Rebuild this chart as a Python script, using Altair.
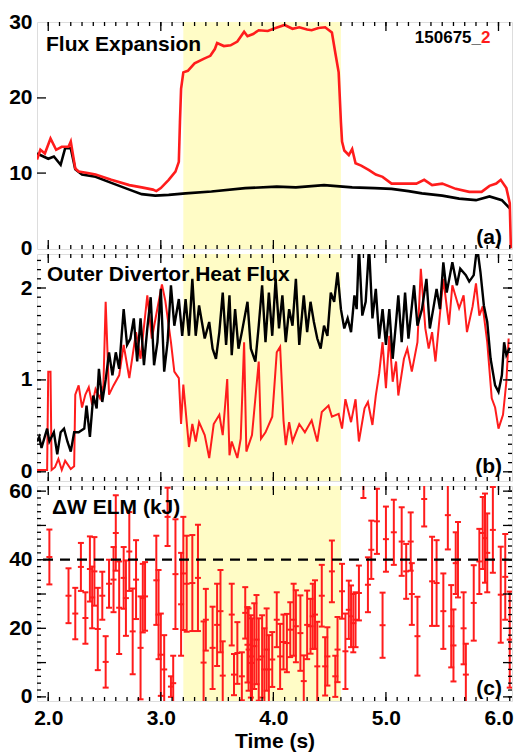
import altair as alt
import pandas as pd

# ---------------- data ----------------
x_domain = [1.9, 6.12]
shade_start, shade_end = 3.2, 4.6
threshold = 40

# Panel (a) flux expansion
t_fe_red = [1.9, 1.93, 1.97, 2.02, 2.07, 2.12, 2.18, 2.2, 2.24, 2.27, 2.35, 2.42, 2.56, 2.72, 2.83, 2.93,
            2.96, 3.0, 3.07, 3.13, 3.16, 3.17, 3.18, 3.2, 3.24, 3.3, 3.38, 3.44, 3.48, 3.5, 3.56, 3.62,
            3.68, 3.74, 3.77, 3.82, 3.87, 3.95, 4.02, 4.1, 4.17, 4.23, 4.3, 4.34, 4.4, 4.46, 4.52, 4.55,
            4.58, 4.6, 4.61, 4.63, 4.67, 4.7, 4.73, 4.78, 4.85, 4.91, 4.97, 5.05, 5.15, 5.27, 5.34, 5.41,
            5.5, 5.62, 5.74, 5.85, 5.92, 5.98, 6.02, 6.07, 6.1, 6.11]
fe_red = [11.8, 13.1, 12.6, 14.6, 13.1, 13.5, 13.5, 14.2, 10.6, 10.2, 10.0, 9.8, 9.1, 8.4, 8.1, 7.8,
          7.6, 8.0, 9.1, 10.2, 11.5, 16.8, 21.2, 23.4, 23.6, 24.6, 25.2, 25.6, 26.5, 27.3, 26.9, 27.0,
          27.5, 28.8, 28.2, 28.5, 29.0, 28.9, 29.3, 29.7, 29.2, 29.4, 29.1, 29.0, 29.3, 29.4, 28.7, 26.0,
          23.4, 16.8, 14.2, 13.0, 12.4, 13.2, 11.3, 11.0, 10.4, 9.8, 9.5, 8.6, 8.6, 8.6, 9.1, 8.4,
          8.6, 7.9, 7.5, 7.5, 8.3, 8.6, 9.1, 8.0, 6.0, 0.0]
t_fe_blk = [1.9, 2.0, 2.05, 2.11, 2.15, 2.2, 2.24, 2.3, 2.42, 2.56, 2.72, 2.83, 2.95, 3.07, 3.22, 3.45,
            3.75, 4.03, 4.2, 4.45, 4.7, 4.9, 5.05, 5.2, 5.32, 5.5, 5.65, 5.8, 5.92, 6.03, 6.1]
fe_blk = [12.6, 11.9, 12.2, 11.1, 13.3, 13.3, 10.5, 9.8, 9.5, 8.7, 7.8, 7.2, 7.0, 7.1, 7.3, 7.55,
          8.0, 8.2, 8.1, 8.4, 8.1, 8.0, 7.9, 7.6, 7.3, 7.0, 6.6, 6.4, 6.9, 6.4, 5.3]

# Panel (b) outer divertor heat flux
t_q_red = [1.9, 1.95, 1.99, 2.0, 2.02, 2.03, 2.06, 2.09, 2.12, 2.15, 2.2, 2.23, 2.24, 2.27, 2.3, 2.33,
           2.36, 2.39, 2.42, 2.46, 2.49, 2.51, 2.54, 2.58, 2.63, 2.67, 2.72, 2.78, 2.82, 2.88, 2.92, 2.97,
           3.01, 3.04, 3.09, 3.12, 3.16, 3.18, 3.2, 3.23, 3.25, 3.28, 3.31, 3.34, 3.39, 3.43, 3.47, 3.52,
           3.55, 3.59, 3.61, 3.63, 3.68, 3.71, 3.74, 3.76, 3.81, 3.87, 3.89, 3.93, 3.99, 4.03, 4.06, 4.09,
           4.11, 4.14, 4.17, 4.23, 4.28, 4.34, 4.39, 4.43, 4.49, 4.52, 4.58, 4.61, 4.64, 4.69, 4.73, 4.76,
           4.81, 4.84, 4.88, 4.91, 4.94, 4.97, 5.0, 5.03, 5.06, 5.09, 5.11, 5.16, 5.19, 5.23, 5.28, 5.31,
           5.35, 5.38, 5.41, 5.44, 5.47, 5.51, 5.56, 5.59, 5.65, 5.69, 5.72, 5.77, 5.8, 5.83, 5.86, 5.9,
           5.94, 5.97, 6.0, 6.04, 6.07, 6.09]
q_red = [0.02, 0.02, 0.02, 1.09, 1.09, 0.02, 0.05, 0.14, 0.02, 0.12, 0.03, 0.06, 0.84, 0.94, 0.7, 0.84,
         0.92, 0.73, 0.9, 0.8, 0.94, 1.85, 0.84, 0.94, 1.05, 1.38, 1.02, 1.52, 1.23, 1.92, 1.45, 1.78,
         2.04, 1.86, 1.41, 1.09, 1.02, 0.52, 0.95, 0.54, 0.27, 0.52, 0.33, 0.54, 0.4, 0.15, 0.52, 0.62,
         0.4, 1.01, 0.18, 0.33, 0.15, 0.36, 1.41, 0.22, 0.4, 1.2, 0.36, 0.43, 0.6, 1.3, 1.36, 0.56,
         0.29, 0.54, 0.33, 0.52, 0.43, 0.56, 0.33, 0.65, 0.72, 0.6, 0.63, 0.47, 0.79, 0.54, 0.79, 0.33,
         0.69, 0.76, 0.51, 0.83, 1.07, 1.41, 0.91, 1.48, 0.98, 1.2, 0.83, 1.23, 1.34, 1.09, 1.41, 2.21,
         1.56, 1.34, 1.52, 1.2, 1.59, 2.1, 1.6, 2.03, 1.78, 1.92, 1.52, 1.8, 2.05, 1.7, 1.8, 1.41,
         0.8, 0.7, 0.47, 0.62, 0.98, 1.45]
t_q_blk = [1.9, 1.92, 1.94, 1.99, 2.01, 2.05, 2.08, 2.11, 2.14, 2.17, 2.2, 2.23, 2.27, 2.32, 2.34, 2.37,
           2.4, 2.43, 2.45, 2.48, 2.51, 2.54, 2.57, 2.6, 2.63, 2.65, 2.67, 2.7, 2.73, 2.76, 2.79, 2.82,
           2.85, 2.88, 2.91, 2.94, 2.97, 3.0, 3.03, 3.06, 3.09, 3.12, 3.16, 3.19, 3.22, 3.25, 3.28, 3.31,
           3.34, 3.39, 3.43, 3.46, 3.49, 3.52, 3.55, 3.58, 3.61, 3.63, 3.66, 3.69, 3.72, 3.77, 3.8, 3.84,
           3.87, 3.9, 3.93, 3.96, 3.99, 4.02, 4.05, 4.08, 4.11, 4.14, 4.17, 4.2, 4.23, 4.27, 4.3, 4.33,
           4.36, 4.39, 4.42, 4.45, 4.48, 4.51, 4.54, 4.57, 4.6, 4.63, 4.66, 4.69, 4.72, 4.74, 4.76, 4.79,
           4.82, 4.85, 4.88, 4.91, 4.94, 4.97, 5.0, 5.03, 5.06, 5.09, 5.11, 5.14, 5.17, 5.2, 5.25, 5.28,
           5.32, 5.36, 5.39, 5.42, 5.45, 5.48, 5.51, 5.54, 5.59, 5.63, 5.66, 5.71, 5.74, 5.78, 5.81, 5.84,
           5.87, 5.9, 5.93, 5.97, 6.0, 6.03, 6.05, 6.07, 6.1]
q_blk = [0.33, 0.38, 0.26, 0.47, 0.33, 0.43, 0.19, 0.43, 0.47, 0.33, 0.22, 0.43, 0.43, 0.47, 0.72, 0.38,
         0.83, 0.69, 1.12, 0.76, 1.0, 1.3, 1.05, 1.3, 1.12, 1.45, 1.77, 1.38, 1.45, 1.67, 1.2, 1.67,
         1.16, 1.56, 1.9, 1.16, 1.41, 1.99, 1.09, 1.41, 2.03, 1.59, 1.88, 1.48, 1.88, 1.48, 2.1, 1.48,
         1.81, 1.45, 1.63, 1.34, 1.23, 1.52, 1.95, 1.38, 1.92, 1.27, 1.77, 1.34, 1.52, 1.85, 1.34, 1.2,
         1.59, 2.03, 1.41, 1.95, 1.48, 2.1, 1.56, 1.92, 1.41, 1.77, 1.59, 2.1, 1.38, 1.92, 1.52, 1.85,
         1.63, 1.45, 1.34, 1.59, 1.48, 1.95, 1.85, 2.17, 1.77, 1.56, 1.67, 1.52, 1.92, 1.77, 2.45, 1.7,
         1.85, 2.45, 1.67, 1.99, 1.45, 1.77, 1.38, 1.77, 1.23, 1.63, 1.92, 1.41, 1.95, 1.45, 2.03, 1.59,
         1.77, 2.1, 1.56, 1.77, 1.99, 1.77, 2.28, 1.95, 2.28, 2.03, 2.21, 2.14, 2.07, 2.14, 2.45, 2.17,
         1.81, 1.63, 1.23, 0.94, 0.87, 1.05, 1.41, 1.27, 1.35]

# Panel (c) ELM energy loss with error bars
t_elm = [2.01, 2.18, 2.24, 2.29, 2.33, 2.37, 2.39, 2.41, 2.44, 2.48, 2.51, 2.54, 2.58, 2.6, 2.63, 2.67,
         2.69, 2.72, 2.75, 2.78, 2.82, 2.84, 2.86, 2.96, 2.98, 3.0, 3.03, 3.06, 3.09, 3.11, 3.13, 3.18,
         3.2, 3.23, 3.28, 3.33, 3.38, 3.4, 3.46, 3.5, 3.53, 3.55, 3.63, 3.65, 3.68, 3.72, 3.75, 3.77,
         3.78, 3.8, 3.81, 3.83, 3.85, 3.87, 3.9, 3.92, 3.94, 3.96, 3.99, 4.03, 4.06, 4.09, 4.12, 4.15,
         4.18, 4.2, 4.24, 4.27, 4.3, 4.33, 4.35, 4.37, 4.39, 4.43, 4.46, 4.48, 4.52, 4.55, 4.57, 4.61,
         4.64, 4.67, 4.69, 4.71, 4.73, 4.76, 4.8, 4.84, 4.87, 4.92, 4.97, 5.0, 5.07, 5.14, 5.18, 5.22,
         5.23, 5.28, 5.34, 5.41, 5.45, 5.51, 5.55, 5.58, 5.6, 5.62, 5.64, 5.69, 5.71, 5.78, 5.83, 5.86,
         5.88, 5.9, 5.95, 6.02, 6.06, 6.1]
elm = [40.8, 29.5, 24.3, 37.9, 23.0, 37.3, 29.0, 36.6, 19.8, 29.5, 10.2, 33.0, 34.2, 47.8, 26.0, 34.7,
       28.8, 42.4, 19.1, 34.2, 14.3, 28.8, 29.3, 34.0, 24.0, 12.3, 8.0, 52.5, 3.0, 4.0, 35.8, 27.0,
       36.0, 33.0, 33.2, 34.7, 10.0, 22.5, 14.3, 21.0, 25.0, 6.2, 24.0, 6.5, 12.8, 6.0, 24.5, 15.2,
       13.8, 11.8, 9.9, 14.8, 16.7, 10.9, 11.8, 8.0, 13.8, 8.0, 10.9, 22.5, 11.8, 16.0, 15.7, 19.6,
       22.5, 20.6, 18.6, 4.6, 21.0, 20.6, 23.5, 24.0, 8.9, 29.5, 8.9, 11.8, 36.6, 6.0, 13.8, 30.8,
       13.3, 25.4, 23.5, 21.5, 22.5, 30.3, 64.0, 32.7, 42.9, 51.2, 20.9, 46.0, 48.0, 45.3, 36.6, 45.3,
       30.0, 17.7, 57.7, 33.7, 33.2, 25.0, 53.0, 20.6, 15.0, 39.0, 40.0, 20.0, 6.5, 27.4, 39.5, 47.8,
       46.3, 42.0, 48.7, 29.8, 35.0, 16.7]
elm_err = [8, 8, 7.5, 7, 7.5, 9.5, 9, 10, 12, 7, 7.5, 7, 9.5, 11, 13.5, 9,
           11, 11.5, 12.5, 11.5, 15, 10, 10, 13, 13, 12, 10, 8.5, 3, 8, 16, 15,
           16.5, 14, 14, 15.5, 12, 9, 12, 12, 12, 10, 9, 6, 9, 7, 7.5, 11,
           12, 12, 13, 12.5, 13, 12, 12, 12, 12, 10, 8, 8, 9.5, 8, 8.5, 8,
           10.5, 10.5, 11, 7.5, 10, 8, 9.5, 10, 13, 9, 8.5, 8.5, 9, 6, 9.5, 8,
           11, 8.5, 9, 8.5, 8, 8, 6, 8, 8.5, 9.5, 9.5, 9.5, 9.5, 10, 8, 8.5,
           9, 11.5, 8, 13, 12.5, 11, 10, 12, 10.5, 9, 11, 10.5, 9, 11, 9.5, 10.5,
           13, 11.5, 12.5, 14, 12.5, 14]

# ---------------- styling ----------------
RED = "#ff1c1c"
YELLOW = "#fffcc6"
FONT = "Liberation Sans"
W = 475
H_A, H_B, H_C = 227, 227, 215
x_major = [2, 3, 4, 5, 6]
x_minor = [round(1.9 + 0.1 * i, 2) for i in range(1, 43)]

xs = alt.Scale(domain=x_domain, nice=False, zero=False)


def yaxis(values):
    return alt.Axis(values=values, ticks=False, domain=False, grid=False, labelFont=FONT,
                    labelFontSize=21, labelFontWeight="bold", labelColor="black",
                    labelPadding=5, title=None, labelOverlap=False)


def make_panel(H, ys, yax, xax, layers_spec, minor_y, major_y, right_ticks, texts):
    """Build one panel; every layer that encodes x / y with a field uses the same axis spec."""
    X = lambda f: alt.X(f, scale=xs, axis=xax)
    Y = lambda f: alt.Y(f, scale=ys, axis=yax)
    layers = []
    # shaded interval
    sdf = pd.DataFrame({"t0": [shade_start], "t1": [shade_end]})
    layers.append(alt.Chart(sdf).mark_rect(color=YELLOW).encode(
        x=X("t0:Q"), x2="t1:Q", y=alt.value(0), y2=alt.value(H)))
    # data layers
    for kind, df, opts in layers_spec:
        if kind == "line":
            layers.append(alt.Chart(df).mark_line(clip=True, **opts).encode(x=X("t:Q"), y=Y("v:Q")))
        elif kind == "errbar":
            layers.append(alt.Chart(df).mark_rule(clip=True, **opts).encode(
                x=X("t:Q"), y=Y("lo:Q"), y2="hi:Q"))
            for fld in ("lo", "hi", "v"):
                layers.append(alt.Chart(df).mark_rule(clip=True, xOffset=-3, x2Offset=3, **opts).encode(
                    x=X("t:Q"), x2="t:Q", y=Y(f"{fld}:Q")))
        elif kind == "hline":
            layers.append(alt.Chart(df).mark_rule(**opts).encode(y=Y("v:Q")))
    # x ticks (inside, top and bottom)
    for vals, ln in ((x_minor, 4), (x_major, 9)):
        df = pd.DataFrame({"t": vals})
        base = alt.Chart(df).mark_rule(color="black", strokeWidth=1.3)
        layers.append(base.encode(x=X("t:Q"), y=alt.value(0), y2=alt.value(ln)))
        layers.append(base.encode(x=X("t:Q"), y=alt.value(H - ln), y2=alt.value(H)))
    # y ticks (inside, left and right)
    for vals, ln in ((minor_y, 4), (major_y, 9)):
        if not vals:
            continue
        df = pd.DataFrame({"v": vals})
        base = alt.Chart(df).mark_rule(color="black", strokeWidth=1.3)
        layers.append(base.encode(y=Y("v:Q"), x=alt.value(0), x2=alt.value(ln)))
        if right_ticks:
            layers.append(base.encode(y=Y("v:Q"), x=alt.value(W - ln), x2=alt.value(W)))
    # texts
    for text, x, y, align, size, color in texts:
        layers.append(alt.Chart(pd.DataFrame({"k": [0]})).mark_text(
            text=text, align=align, baseline="alphabetic", font=FONT, fontSize=size,
            fontWeight="bold", color=color).encode(x=alt.value(x), y=alt.value(y)))
    return alt.layer(*layers).properties(width=W, height=H)


# ---------------- panel (a) ----------------
ys_a = alt.Scale(domain=[-0.1, 30.1], nice=False, zero=False)
panel_a = make_panel(
    H_A, ys_a, yaxis([0, 10, 20, 30]), None,
    [("line", pd.DataFrame({"t": t_fe_blk, "v": fe_blk}), dict(color="black", strokeWidth=2.6)),
     ("line", pd.DataFrame({"t": t_fe_red, "v": fe_red}), dict(color=RED, strokeWidth=2.6))],
    [], [10, 20], False,
    [("Flux Expansion", 9, 29, "left", 21, "black"),
     ("150675_", 444, 21, "right", 17, "black"),
     ("2", 444, 21, "left", 17, RED),
     ("(a)", 465, 222, "right", 21, "black")])

# ---------------- panel (b) ----------------
ys_b = alt.Scale(domain=[-0.1, 2.37], nice=False, zero=False)
b_minor = [round(0.1 * i, 1) for i in range(0, 24)]
panel_b = make_panel(
    H_B, ys_b, yaxis([0, 1, 2]), None,
    [("line", pd.DataFrame({"t": t_q_red, "v": q_red}), dict(color=RED, strokeWidth=2.0)),
     ("line", pd.DataFrame({"t": t_q_blk, "v": q_blk}), dict(color="black", strokeWidth=2.4))],
    b_minor, [0, 1, 2], True,
    [("Outer Divertor Heat Flux", 10, 27, "left", 21, "black"),
     ("(b)", 465, 219, "right", 21, "black")])

# ---------------- panel (c) ----------------
ys_c = alt.Scale(domain=[-1.2, 61.5], nice=False, zero=False)
df_c = pd.DataFrame({"t": t_elm, "v": elm, "e": elm_err})
df_c["lo"] = df_c["v"] - df_c["e"]
df_c["hi"] = df_c["v"] + df_c["e"]
x_axis_c = alt.Axis(
    values=x_major, format=".1f", ticks=False, domain=False, grid=False, labelFont=FONT,
    labelFontSize=21, labelFontWeight="bold", labelColor="black", labelPadding=6,
    title="Time (s)", titleFont=FONT, titleFontSize=21, titleFontWeight="bold",
    titleColor="black", titlePadding=2, labelFlush=False)
c_minor = list(range(0, 62, 2))
panel_c = make_panel(
    H_C, ys_c, yaxis([0, 20, 40, 60]), x_axis_c,
    [("errbar", df_c, dict(color=RED, strokeWidth=2.0)),
     ("hline", pd.DataFrame({"v": [threshold]}), dict(color="black", strokeWidth=2.2, strokeDash=[10, 7]))],
    c_minor, [0, 10, 20, 30, 40, 50, 60], True,
    [("ΔW ELM (kJ)", 15, 28, "left", 21, "black"),
     ("(c)", 465, 209, "right", 21, "black")])

chart = alt.vconcat(panel_a, panel_b, panel_c, spacing=5, bounds="flush").properties(
    padding={"left": 8, "top": 11, "right": 0, "bottom": 0}
).configure_view(stroke="black", strokeWidth=2.5).configure(background="white")

chart.save("out.html", embed_options={"renderer": "svg", "actions": False})
